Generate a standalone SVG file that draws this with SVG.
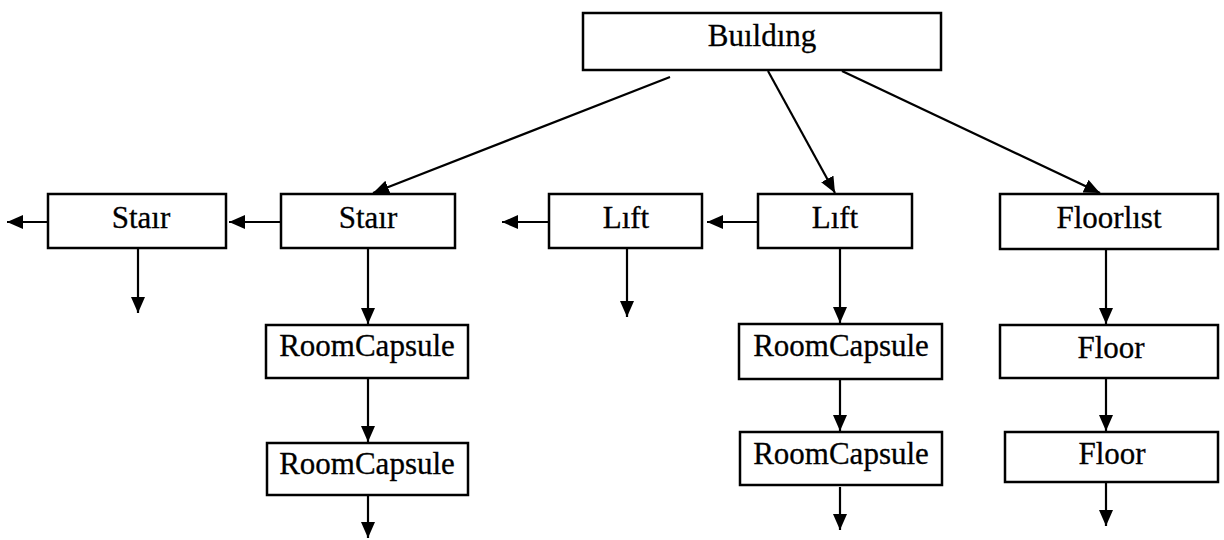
<svg xmlns="http://www.w3.org/2000/svg" width="1224" height="540" viewBox="0 0 1224 540">
  <style>
    .box { fill: #ffffff; stroke: #000000; stroke-width: 2.5; }
    .lbl { font-family: "Liberation Serif", "Times New Roman", serif; font-size: 31px; fill: #000000; stroke: #000000; stroke-width: 0.3; text-anchor: middle; }
    .edge { stroke: #000000; stroke-width: 2.2; fill: none; marker-end: url(#arrow); }
  </style>
  <defs>
    <marker id="arrow" markerUnits="userSpaceOnUse" markerWidth="17" markerHeight="15" refX="16" refY="7" orient="auto">
      <path d="M0,0 L16,7 L0,14 z" fill="#000000"/>
    </marker>
  </defs>
  <rect width="1224" height="540" fill="#ffffff"/>

  <g id="connectors">
    <!-- from Building -->
    <line class="edge" x1="670" y1="77" x2="373" y2="193"/>
    <line class="edge" x1="768" y1="71" x2="835" y2="193"/>
    <line class="edge" x1="842" y1="71" x2="1100" y2="193"/>
    <!-- stair chain -->
    <line class="edge" x1="281" y1="222" x2="229" y2="222"/>
    <line class="edge" x1="48" y1="222" x2="7" y2="222"/>
    <line class="edge" x1="138" y1="249" x2="138" y2="313"/>
    <line class="edge" x1="368" y1="249" x2="368" y2="324"/>
    <line class="edge" x1="368" y1="378" x2="368" y2="442"/>
    <line class="edge" x1="368" y1="495" x2="368" y2="538"/>
    <!-- lift chain -->
    <line class="edge" x1="758" y1="222" x2="707" y2="222"/>
    <line class="edge" x1="549" y1="222" x2="502" y2="222"/>
    <line class="edge" x1="627" y1="249" x2="627" y2="317"/>
    <line class="edge" x1="840" y1="249" x2="840" y2="323"/>
    <line class="edge" x1="840" y1="379" x2="840" y2="431"/>
    <line class="edge" x1="840" y1="487" x2="840" y2="530"/>
    <!-- floor chain -->
    <line class="edge" x1="1106" y1="249" x2="1106" y2="324"/>
    <line class="edge" x1="1106" y1="378" x2="1106" y2="431"/>
    <line class="edge" x1="1106" y1="482" x2="1106" y2="526"/>
  </g>

  <g id="building">
    <rect class="box" x="583" y="13" width="358" height="57"/>
    <text class="lbl" x="762" y="46">Buıldıng</text>
  </g>

  <g id="stair-prev">
    <rect class="box" x="48" y="194" width="178" height="54"/>
    <text class="lbl" x="141" y="228">Staır</text>
  </g>
  <g id="stair">
    <rect class="box" x="281" y="194" width="174" height="54"/>
    <text class="lbl" x="368" y="228">Staır</text>
  </g>
  <g id="stair-room-1">
    <rect class="box" x="266" y="325" width="202" height="53"/>
    <text class="lbl" x="367" y="356">RoomCapsule</text>
  </g>
  <g id="stair-room-2">
    <rect class="box" x="267" y="443" width="201" height="52"/>
    <text class="lbl" x="367" y="474">RoomCapsule</text>
  </g>

  <g id="lift-prev">
    <rect class="box" x="549" y="194" width="153" height="54"/>
    <text class="lbl" x="626" y="228">Lıft</text>
  </g>
  <g id="lift">
    <rect class="box" x="758" y="194" width="154" height="54"/>
    <text class="lbl" x="835" y="228">Lıft</text>
  </g>
  <g id="lift-room-1">
    <rect class="box" x="739" y="324" width="203" height="55"/>
    <text class="lbl" x="841" y="356">RoomCapsule</text>
  </g>
  <g id="lift-room-2">
    <rect class="box" x="740" y="432" width="202" height="53"/>
    <text class="lbl" x="841" y="464">RoomCapsule</text>
  </g>

  <g id="floorlist">
    <rect class="box" x="1000" y="194" width="218" height="55"/>
    <text class="lbl" x="1109" y="228">Floorlıst</text>
  </g>
  <g id="floor-1">
    <rect class="box" x="1000" y="325" width="218" height="53"/>
    <text class="lbl" x="1111" y="358">Floor</text>
  </g>
  <g id="floor-2">
    <rect class="box" x="1005" y="432" width="213" height="50"/>
    <text class="lbl" x="1112" y="464">Floor</text>
  </g>
</svg>
